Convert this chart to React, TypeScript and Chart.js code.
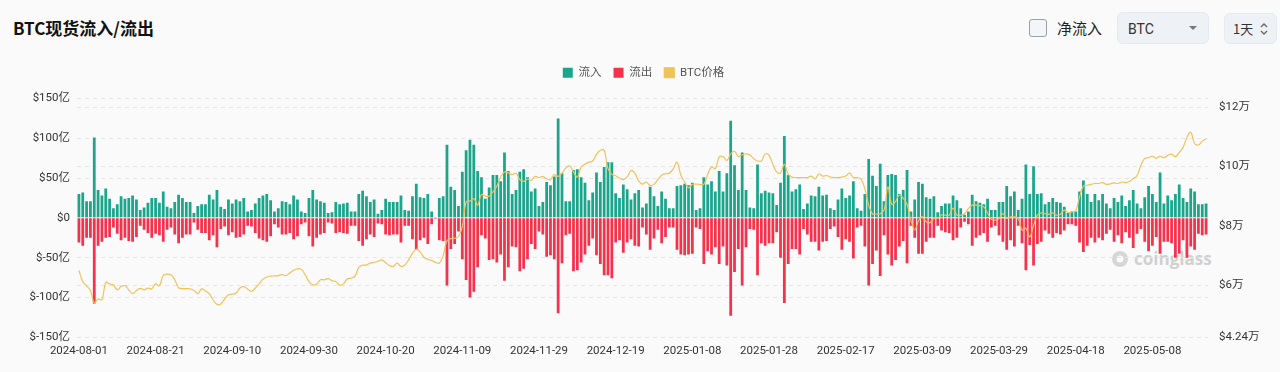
import React, { useEffect, useRef } from 'react';
import { Chart, registerables } from 'chart.js';

Chart.register(...registerables);

const START_DATE = '2024-08-01';
const TICK_LABELS = [
  '2024-08-01', '2024-08-21', '2024-09-10', '2024-09-30', '2024-10-20', '2024-11-09',
  '2024-11-29', '2024-12-19', '2025-01-08', '2025-01-28', '2025-02-17', '2025-03-09',
  '2025-03-29', '2025-04-18', '2025-05-08',
];

// 流入 (亿美元)
const INFLOW = [
  30, 32, 21, 21, 101, 35, 28, 37, 24, 12,
  17, 27, 24, 25, 28, 23, 10, 13, 19, 25,
  25, 19, 33, 14, 12, 20, 29, 25, 20, 20,
  6, 15, 17, 17, 29, 23, 35, 14, 11, 23,
  18, 23, 21, 25, 8, 10, 18, 25, 28, 30,
  22, 8, 12, 21, 20, 17, 28, 23, 8, 6,
  25, 35, 23, 21, 19, 6, 7, 20, 17, 18,
  19, 8, 8, 30, 34, 27, 20, 23, 5, 10,
  24, 20, 20, 20, 28, 10, 9, 27, 43, 26,
  25, 30, 8, 1, 25, 27, 92, 39, 35, 15,
  58, 85, 98, 92, 59, 51, 24, 38, 54, 54,
  46, 82, 59, 30, 35, 58, 61, 51, 33, 37,
  15, 20, 45, 41, 52, 125, 56, 21, 21, 60,
  61, 51, 44, 22, 32, 57, 45, 64, 70, 70,
  31, 25, 42, 36, 23, 31, 35, 13, 18, 39,
  27, 15, 33, 24, 12, 12, 40, 41, 43, 41,
  44, 10, 12, 51, 42, 46, 33, 59, 33, 56,
  122, 66, 35, 82, 35, 13, 12, 67, 31, 34,
  32, 31, 16, 44, 103, 54, 33, 36, 42, 11,
  18, 28, 27, 39, 28, 29, 12, 10, 23, 37,
  25, 28, 46, 12, 9, 30, 74, 53, 40, 68,
  21, 54, 55, 54, 30, 35, 60, 8, 23, 45,
  43, 26, 24, 27, 7, 15, 18, 18, 28, 22,
  12, 4, 8, 29, 21, 19, 17, 24, 10, 10,
  20, 20, 40, 27, 33, 10, 24, 67, 30, 65,
  30, 31, 17, 20, 25, 20, 19, 14, 6, 8,
  8, 33, 47, 30, 20, 30, 22, 30, 18, 12,
  25, 20, 28, 15, 22, 35, 18, 12, 26, 40,
  30, 20, 57, 18, 28, 22, 30, 42, 25, 20,
  37, 33, 17, 17, 18,
];

// 流出 (亿美元, 绝对值)
const OUTFLOW = [
  31, 35, 25, 25, 108, 35, 30, 25, 24, 12,
  20, 28, 25, 29, 30, 24, 10, 15, 19, 25,
  20, 22, 30, 15, 12, 21, 32, 25, 21, 21,
  6, 15, 19, 19, 28, 22, 37, 14, 11, 22,
  18, 25, 24, 21, 10, 11, 19, 26, 28, 30,
  23, 8, 12, 21, 21, 19, 27, 23, 8, 6,
  23, 36, 25, 21, 19, 6, 7, 19, 18, 19,
  20, 10, 10, 29, 35, 27, 21, 24, 7, 8,
  21, 22, 21, 21, 31, 10, 10, 27, 40, 28,
  25, 33, 8, 1, 28, 29, 85, 39, 33, 17,
  52, 78, 100, 93, 62, 22, 26, 53, 52, 56,
  46, 79, 62, 36, 37, 67, 64, 52, 33, 39,
  17, 21, 49, 47, 52, 120, 57, 22, 20, 67,
  66, 56, 46, 35, 26, 47, 58, 72, 72, 76,
  31, 28, 44, 31, 27, 35, 36, 12, 21, 40,
  26, 15, 32, 24, 12, 12, 40, 46, 47, 46,
  45, 12, 14, 58, 42, 46, 37, 58, 36, 60,
  123, 68, 39, 85, 37, 14, 15, 72, 32, 35,
  32, 32, 18, 50, 107, 58, 39, 39, 46, 14,
  21, 30, 30, 41, 30, 29, 14, 11, 24, 40,
  27, 30, 51, 12, 10, 36, 85, 58, 41, 73,
  22, 46, 60, 53, 36, 29, 57, 10, 25, 45,
  45, 30, 25, 25, 10, 16, 18, 19, 28, 25,
  12, 5, 8, 35, 25, 22, 19, 30, 12, 10,
  22, 30, 40, 28, 36, 10, 32, 66, 34, 60,
  33, 30, 16, 20, 25, 19, 21, 16, 8, 8,
  10, 31, 43, 35, 25, 31, 25, 28, 20, 15,
  30, 22, 32, 18, 25, 38, 20, 14, 30, 42,
  35, 24, 45, 30, 30, 32, 50, 45, 28, 50,
  36, 40, 20, 22, 21,
];

// BTC价格 (美元)
const PRICE = [
  64900, 61200, 59750, 58200, 53900, 55300, 55050, 60900, 60400, 60000,
  58400, 59500, 59800, 58400, 57100, 58200, 58900, 58400, 59000, 58700,
  60400, 59800, 63300, 63700, 63500, 61800, 59100, 58800, 58800, 58700,
  58200, 57100, 58700, 58000, 57100, 55050, 53500, 53600, 55300, 56700,
  56900, 57300, 59000, 59500, 58700, 57900, 59000, 60400, 62000, 62700,
  63000, 63100, 63200, 63500, 63200, 64100, 65000, 65500, 65300, 63500,
  61200, 60100, 60300, 61800, 61800, 62200, 61500, 61200, 60000, 60400,
  62100, 62300, 63000, 66000, 66700, 66800, 67400, 67700, 68000, 68500,
  67600, 66600, 66300, 67400, 66300, 66800, 68500, 70700, 72100, 71200,
  69400, 68700, 68300, 67700, 67400, 69900, 75000, 75700, 75800, 76400,
  79700, 88100, 88400, 89200, 87000, 90600, 90000, 90000, 91500, 93400,
  96500, 98200, 97900, 97300, 97800, 95600, 95000, 95800, 95400, 96700,
  96300, 96700, 95800, 95600, 97300, 96700, 97800, 99500, 100300, 98200,
  96500, 99900, 100800, 101500, 101900, 104100, 105500, 105500, 99300, 97400,
  96900, 96100, 95600, 96500, 98700, 97800, 95100, 94100, 94800, 93600,
  94000, 95600, 97100, 97600, 97800, 99200, 101500, 97100, 94800, 92800,
  94000, 94100, 94000, 94000, 97400, 99900, 99300, 103200, 103400, 102100,
  104300, 105200, 103400, 104000, 104300, 103900, 102700, 101900, 101900, 104300,
  103800, 100800, 98200, 97800, 100800, 97400, 96500, 96300, 96300, 96300,
  96300, 96800, 95900, 97500, 96800, 97000, 96500, 96300, 96300, 96500,
  96800, 97900, 96300, 96300, 95800, 92500, 87000, 84000, 84000, 84100,
  85300, 93100, 87300, 88200, 90400, 89300, 87300, 82000, 78600, 81700,
  83100, 81400, 81100, 82600, 82600, 83700, 83600, 83600, 86000, 83600,
  83600, 84100, 85800, 87000, 87000, 86800, 86400, 84400, 82200, 81900,
  82500, 84100, 82500, 83000, 83000, 82500, 78600, 79200, 76300, 80200,
  83600, 84400, 84100, 83900, 84400, 83600, 83900, 85300, 84500, 84700,
  85100, 89800, 93400, 93700, 94000, 94300, 94300, 94600, 94000, 94200,
  94500, 94300, 94800, 94600, 95000, 96000, 97000, 100500, 102800, 103000,
  103500, 102800, 103500, 103000, 103800, 104200, 103400, 104800, 106500, 109800,
  111600, 107800, 107300, 108600, 109300,
];

const RIGHT_TICKS = [42400, 60000, 80000, 100000, 120000];

const COLOR_IN = '#1ba68b';
const COLOR_OUT = '#f5324b';
const COLOR_PRICE = '#efc35a';
const FONT = "Roboto, 'Noto Sans CJK SC', sans-serif";

function buildDates(start: string, n: number): string[] {
  const out: string[] = [];
  const d0 = new Date(start + 'T00:00:00Z').getTime();
  for (let i = 0; i < n; i++) {
    const d = new Date(d0 + i * 86400000);
    out.push(d.toISOString().slice(0, 10));
  }
  return out;
}

const legendMargin = {
  id: 'legendMargin',
  beforeInit(chart: any) {
    const legend = chart.legend;
    if (!legend) return;
    const origFit = legend.fit;
    legend.fit = function () {
      origFit.call(this);
      this.height += 10;
    };
  },
};

export default function App() {
  const canvasRef = useRef<HTMLCanvasElement | null>(null);

  useEffect(() => {
    const labels = buildDates(START_DATE, INFLOW.length);
    Chart.defaults.font.family = FONT;
    const chart = new Chart(canvasRef.current as HTMLCanvasElement, {
      type: 'bar',
      data: {
        labels,
        datasets: [
          {
            type: 'bar',
            label: '流入',
            data: INFLOW,
            backgroundColor: COLOR_IN,
            borderWidth: 0,
            yAxisID: 'y',
            stack: 'flow',
            barPercentage: 0.85,
            categoryPercentage: 0.85,
            order: 1,
          },
          {
            type: 'bar',
            label: '流出',
            data: OUTFLOW.map((v) => -v),
            backgroundColor: COLOR_OUT,
            borderWidth: 0,
            yAxisID: 'y',
            stack: 'flow',
            barPercentage: 0.85,
            categoryPercentage: 0.85,
            order: 2,
          },
          {
            type: 'line',
            label: 'BTC价格',
            data: PRICE,
            borderColor: COLOR_PRICE,
            backgroundColor: COLOR_PRICE,
            borderWidth: 1.2,
            pointRadius: 0,
            tension: 0.4,
            yAxisID: 'y1',
            order: 0,
          },
        ],
      } as any,
      options: {
        animation: false,
        responsive: false,
        maintainAspectRatio: false,
        layout: { padding: { top: 55, left: 7, right: 0, bottom: 7 } },
        plugins: {
          legend: {
            position: 'top',
            labels: {
              boxWidth: 10,
              boxHeight: 10,
              padding: 12,
              color: '#555',
              font: { size: 11.5, family: FONT },
              sort: (a: any, b: any) => a.datasetIndex - b.datasetIndex,
            },
          },
          tooltip: { enabled: false },
        },
        scales: {
          x: {
            stacked: true,
            offset: true,
            grid: { display: false, drawTicks: false },
            border: { display: false },
            ticks: {
              autoSkip: false,
              maxRotation: 0,
              minRotation: 0,
              padding: 7,
              color: '#333',
              font: { size: 11.5, family: FONT },
              callback: (_v: any, idx: number) =>
                TICK_LABELS.includes(labels[idx]) ? labels[idx] : '',
            },
          },
          y: {
            position: 'left',
            stacked: true,
            min: -150,
            max: 150,
            grid: { color: '#e6e6e6', drawTicks: false },
            border: { display: false, dash: [4, 4] },
            ticks: {
              stepSize: 50,
              padding: 7,
              color: '#333',
              font: { size: 11.5, family: FONT },
              callback: (v: any) => (Number(v) === 0 ? '$0' : '$' + v + '亿'),
            },
            afterFit: (scale: any) => {
              scale.width = 70;
            },
          },
          y1: {
            position: 'right',
            min: 42400,
            max: 123000,
            grid: { color: '#e6e6e6', drawTicks: false },
            border: { display: false, dash: [4, 4] },
            afterBuildTicks: (scale: any) => {
              scale.ticks = RIGHT_TICKS.map((v) => ({ value: v }));
            },
            ticks: {
              padding: 11,
              color: '#333',
              font: { size: 11.5, family: FONT },
              callback: (v: any) => '$' + Number(v) / 10000 + '万',
            },
            afterFit: (scale: any) => {
              scale.width = 72;
            },
          },
        },
      } as any,
      plugins: [legendMargin],
    });
    return () => chart.destroy();
  }, []);

  const box: React.CSSProperties = {
    position: 'absolute',
    background: '#eef1f5',
    border: '1px solid #e6e9ef',
    borderRadius: 6,
    boxSizing: 'border-box',
    fontFamily: FONT,
    color: '#333',
    fontSize: 14,
  };

  return (
    <div
      style={{
        position: 'fixed',
        left: 0,
        top: 0,
        width: 1280,
        height: 372,
        background: '#fafafa',
        overflow: 'hidden',
        fontFamily: FONT,
      }}
    >
      <div
        style={{
          position: 'absolute',
          left: 13,
          top: 18,
          fontSize: 17,
          lineHeight: '20px',
          fontWeight: 700,
          color: '#111',
          fontFamily: "'Noto Sans CJK SC', sans-serif",
        }}
      >
        BTC现货流入/流出
      </div>
      <div
        style={{
          position: 'absolute',
          left: 1029,
          top: 19,
          width: 18,
          height: 18,
          border: '1.5px solid #9aa0a8',
          borderRadius: 3,
          background: '#f3f5f8',
          boxSizing: 'border-box',
        }}
      />
      <div
        style={{
          position: 'absolute',
          left: 1057,
          top: 18,
          fontSize: 15,
          lineHeight: '20px',
          color: '#222',
          fontFamily: "'Noto Sans CJK SC', sans-serif",
        }}
      >
        净流入
      </div>
      <div style={{ ...box, left: 1117, top: 12, width: 92, height: 32 }}>
        <span style={{ position: 'absolute', left: 10, top: 7, lineHeight: '18px' }}>BTC</span>
        <span
          style={{
            position: 'absolute',
            left: 71,
            top: 13,
            width: 0,
            height: 0,
            borderLeft: '4px solid transparent',
            borderRight: '4px solid transparent',
            borderTop: '4px solid #777',
          }}
        />
      </div>
      <div style={{ ...box, left: 1224, top: 13, width: 53, height: 31 }}>
        <span
          style={{
            position: 'absolute',
            left: 8,
            top: 6,
            fontSize: 13,
            lineHeight: '18px',
            fontFamily: "'Noto Sans CJK SC', sans-serif",
          }}
        >
          1天
        </span>
        <svg style={{ position: 'absolute', left: 35, top: 8 }} width="8" height="14" viewBox="0 0 8 14">
          <polyline points="1,5 4,2 7,5" fill="none" stroke="#666" strokeWidth="1.3" />
          <polyline points="1,9 4,12 7,9" fill="none" stroke="#666" strokeWidth="1.3" />
        </svg>
      </div>
      <div
        style={{
          position: 'absolute',
          left: 1110,
          top: 247,
          display: 'flex',
          alignItems: 'center',
          gap: 4,
          color: '#d0d0d0',
          fontWeight: 700,
          fontSize: 17,
          fontFamily: "'Open Sans', sans-serif",
        }}
      >
        <svg width="20" height="20" viewBox="0 0 20 20">
          <circle cx="10" cy="10" r="8" fill="#d6d6d6" />
          <circle cx="10" cy="10" r="3.5" fill="#fafafa" />
        </svg>
        <span>coinglass</span>
      </div>
      <canvas
        ref={canvasRef}
        width={1280}
        height={372}
        style={{ position: 'absolute', left: 0, top: 0, width: 1280, height: 372 }}
      />
    </div>
  );
}
